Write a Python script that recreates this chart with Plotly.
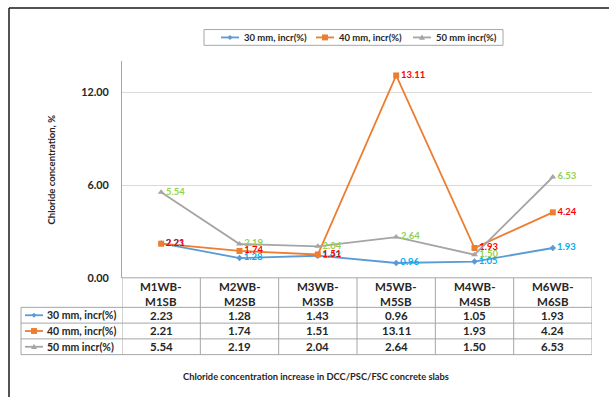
import plotly.graph_objects as go

# ---- data ----
categories = ["M1WB-M1SB", "M2WB-M2SB", "M3WB-M3SB", "M5WB-M5SB", "M4WB-M4SB", "M6WB-M6SB"]
series_names = ["30 mm, incr(%)", "40 mm, incr(%)", "50 mm incr(%)"]
mm30 = [2.23, 1.28, 1.43, 0.96, 1.05, 1.93]
mm40 = [2.21, 1.74, 1.51, 13.11, 1.93, 4.24]
mm50 = [5.54, 2.19, 2.04, 2.64, 1.50, 6.53]
y_ticks = [0, 6, 12]
y_tick_text = ["0.00", "6.00", "12.00"]

# ---- styling ----
W, H = 609, 403
FONT = "Lato, 'Open Sans', sans-serif"
TXT = "#262626"
GRID = "#D9D9D9"
BORDER = "#A6A6A6"
styles = [
    dict(line="#5B9BD5", label="#00B0F0", symbol="diamond", size=5),
    dict(line="#ED7D31", label="#FF0000", symbol="square", size=6),
    dict(line="#A5A5A5", label="#92D050", symbol="triangle-up", size=6),
]
series_values = [mm30, mm40, mm50]

# plot region in pixels
PL, PR, PT, PB = 122, 592, 62, 282
TABLE_LEFT = 21
ROW_LINES = [312, 328, 344, 360]


def fx(x):
    return x / W


def fy(y):
    return 1 - y / H


fig = go.Figure()

for name, vals, st in zip(series_names, series_values, styles):
    fig.add_trace(go.Scatter(
        x=categories, y=vals, name=name, mode="lines+markers+text",
        line=dict(color=st["line"], width=1.8),
        marker=dict(symbol=st["symbol"], size=st["size"], color=st["line"]),
        text=[f"{v:.2f}" for v in vals], textposition="middle right",
        textfont=dict(family=FONT, size=9.5, color=st["label"], weight="bold"),
        cliponaxis=False, hoverinfo="skip",
    ))

shapes = []
annotations = []

# outer frame
shapes.append(dict(type="line", xref="paper", yref="paper", x0=fx(9), x1=1.0,
                   y0=fy(8), y1=fy(8), line=dict(color="#1A1A1A", width=1.5)))
shapes.append(dict(type="line", xref="paper", yref="paper", x0=fx(9), x1=fx(9),
                   y0=fy(8), y1=0, line=dict(color="#1A1A1A", width=1.5)))

# data table grid
shapes.append(dict(type="line", xref="paper", yref="paper", x0=fx(PL), x1=fx(PR),
                   y0=fy(PB), y1=fy(PB), line=dict(color=BORDER, width=1)))
for yl in ROW_LINES:
    shapes.append(dict(type="line", xref="paper", yref="paper", x0=fx(TABLE_LEFT), x1=fx(PR),
                       y0=fy(yl), y1=fy(yl), line=dict(color=BORDER, width=1)))
shapes.append(dict(type="line", xref="paper", yref="paper", x0=fx(TABLE_LEFT), x1=fx(TABLE_LEFT),
                   y0=fy(ROW_LINES[0]), y1=fy(ROW_LINES[-1]), line=dict(color=BORDER, width=1)))
for k in range(len(categories) + 1):
    shapes.append(dict(type="line", xref="x", yref="paper", x0=k - 0.5, x1=k - 0.5,
                       y0=fy(PB), y1=fy(ROW_LINES[-1]), line=dict(color=BORDER, width=1)))

# table header: category names on two lines
for cat in categories:
    a, b = cat.split("-")
    annotations.append(dict(x=cat, xref="x", y=fy(298.5), yref="paper", text=f"{a}-<br>{b}",
                            showarrow=False, xanchor="center", yanchor="middle",
                            font=dict(family=FONT, size=11.5, color=TXT, weight="bold")))


def symbol_shapes(cx, cy, st, half):
    out = [dict(type="line", xref="paper", yref="paper", x0=fx(cx - half), x1=fx(cx + half),
                y0=fy(cy), y1=fy(cy), line=dict(color=st["line"], width=1.8))]
    if st["symbol"] == "square":
        s = 3
        out.append(dict(type="rect", xref="paper", yref="paper", x0=fx(cx - s), x1=fx(cx + s),
                        y0=fy(cy - s), y1=fy(cy + s), fillcolor=st["line"], line=dict(width=0)))
    elif st["symbol"] == "diamond":
        s = 2.5
        path = (f"M {fx(cx)} {fy(cy - s)} L {fx(cx + s)} {fy(cy)} "
                f"L {fx(cx)} {fy(cy + s)} L {fx(cx - s)} {fy(cy)} Z")
        out.append(dict(type="path", xref="paper", yref="paper", path=path,
                        fillcolor=st["line"], line=dict(width=0)))
    else:
        s = 3
        path = (f"M {fx(cx)} {fy(cy - s)} L {fx(cx + s)} {fy(cy + s * 0.8)} "
                f"L {fx(cx - s)} {fy(cy + s * 0.8)} Z")
        out.append(dict(type="path", xref="paper", yref="paper", path=path,
                        fillcolor=st["line"], line=dict(width=0)))
    return out


# table rows: series key, name and values
for r, (name, vals, st) in enumerate(zip(series_names, series_values, styles)):
    cy = (ROW_LINES[r] + ROW_LINES[r + 1]) / 2
    shapes.extend(symbol_shapes(34, cy, st, 9))
    annotations.append(dict(x=fx(45), xref="paper", y=fy(cy), yref="paper", text=name,
                            showarrow=False, xanchor="left", yanchor="middle",
                            font=dict(family=FONT, size=10.5, color=TXT, weight="bold")))
    for cat, v in zip(categories, vals):
        annotations.append(dict(x=cat, xref="x", y=fy(cy), yref="paper", text=f"{v:.2f}",
                                showarrow=False, xanchor="center", yanchor="middle",
                                font=dict(family=FONT, size=11.5, color=TXT, weight="bold")))

# legend box at top
shapes.append(dict(type="rect", xref="paper", yref="paper", x0=fx(204), x1=fx(503),
                   y0=fy(30), y1=fy(46), line=dict(color=BORDER, width=1)))
legend_x = [230, 325, 422]
for name, st, lx in zip(series_names, styles, legend_x):
    shapes.extend(symbol_shapes(lx, 38, st, 9))
    annotations.append(dict(x=fx(lx + 12), xref="paper", y=fy(38), yref="paper", text=name,
                            showarrow=False, xanchor="left", yanchor="middle",
                            font=dict(family=FONT, size=9.5, color=TXT, weight="bold")))

# axis titles
annotations.append(dict(x=fx(51), xref="paper", y=fy(172), yref="paper",
                        text="Chloride concentration, %", textangle=-90, showarrow=False,
                        xanchor="center", yanchor="middle",
                        font=dict(family=FONT, size=9.5, color=TXT, weight="bold")))
annotations.append(dict(x=fx(316), xref="paper", y=fy(382), yref="paper",
                        text="Chloride concentration increase in DCC/PSC/FSC concrete slabs",
                        showarrow=False, xanchor="center", yanchor="middle",
                        font=dict(family=FONT, size=9.3, color=TXT, weight="bold")))

fig.update_layout(
    width=W, height=H,
    margin=dict(l=0, r=0, t=0, b=0),
    paper_bgcolor="white", plot_bgcolor="white",
    showlegend=False,
    shapes=shapes, annotations=annotations,
    xaxis=dict(domain=[fx(PL), fx(PR)], type="category", categoryarray=categories,
               range=[-0.5, len(categories) - 0.5], showticklabels=False,
               showgrid=False, zeroline=False, showline=False, fixedrange=True),
    yaxis=dict(domain=[fy(PB), fy(PT)], range=[0, 14.04], tickvals=y_ticks, ticktext=y_tick_text,
               showgrid=True, gridcolor=GRID, gridwidth=1, zeroline=False,
               showline=True, linecolor=BORDER, linewidth=1, ticks="",
               ticklabelstandoff=10,
               tickfont=dict(family=FONT, size=10.8, color=TXT, weight="bold"), fixedrange=True),
)

fig.write_html("out.html")
